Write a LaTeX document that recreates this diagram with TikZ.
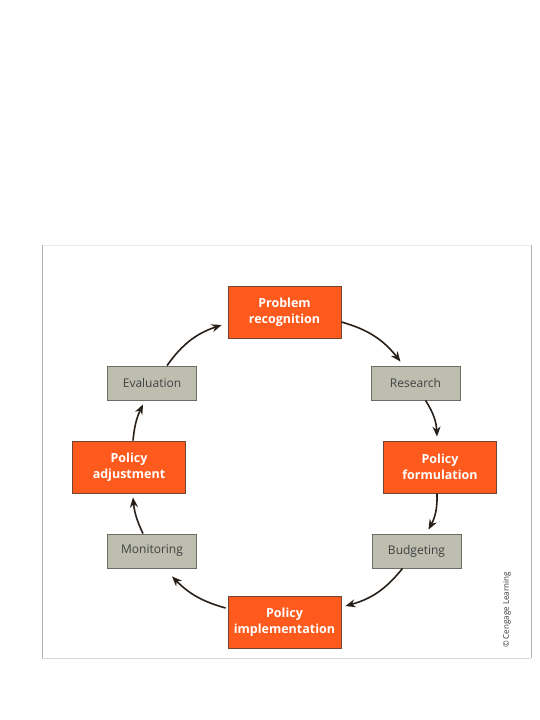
\documentclass[tikz,border=0pt]{standalone}
\usepackage{fontspec}
\setmainfont{Open Sans}
\usepackage{tikz}
\usetikzlibrary{arrows.meta, positioning}
\definecolor{stageorange}{RGB}{255,90,30}
\definecolor{stageedge}{RGB}{110,70,50}
\definecolor{taskgray}{RGB}{190,190,176}
\definecolor{taskedge}{RGB}{110,110,100}
\definecolor{arrowdark}{RGB}{40,32,24}

\begin{document}
\begin{tikzpicture}[
  x=1pt, y=-1pt,
  >={Stealth[length=10pt,width=8pt]},
  stage/.style={
    rectangle, draw=stageedge, line width=0.8pt, fill=stageorange,
    minimum height=52pt, minimum width=113pt, align=center,
    text=white, font=\fontsize{12.5}{16}\selectfont\bfseries
  },
  task/.style={
    rectangle, draw=taskedge, line width=0.8pt, fill=taskgray,
    minimum height=34pt, minimum width=89pt, align=center,
    text=black!75, font=\fontsize{12}{14}\selectfont
  },
  flow/.style={->, line width=1.6pt, color=arrowdark}
]
\useasboundingbox (0,0) rectangle (540,720);

% Frame
\fill[white] (42,245) rectangle (531,658);
\draw[black!8, line width=0.8pt] (42,245) -- (531,245);
\draw[black!15, line width=0.8pt] (42,658) -- (531,658);
\draw[black!30, line width=0.8pt] (42,245) -- (42,658);
\draw[black!30, line width=0.8pt] (531,245) -- (531,658);

% Cycle nodes
\node[stage] (prob) at (284.5,312) {Problem\\recognition};
\node[task] (res) at (415.5,383) {Research};
\node[stage] (form) at (440,467) {Policy\\formulation};
\node[task] (budg) at (416.5,551) {Budgeting};
\node[stage] (impl) at (284.5,622) {Policy\\implementation};
\node[task] (mon) at (152,551) {Monitoring};
\node[stage] (adj) at (129,467) {Policy\\adjustment};
\node[task] (eval) at (152,383) {Evaluation};

% Flow arrows
\draw[flow] ([yshift=-10pt]prob.east) to[bend left=18] ([xshift=-15pt,yshift=4pt]res.north);
\draw[flow] ([xshift=10pt]res.south) to[bend left=15] ([xshift=-3pt,yshift=4pt]form.north);
\draw[flow] ([xshift=-3pt]form.south) to[bend left=15] ([xshift=12pt,yshift=4pt]budg.north);
\draw[flow] ([xshift=-14pt]budg.south) to[bend left=18] ([xshift=4pt,yshift=16pt]impl.east);
\draw[flow] ([xshift=-2pt,yshift=14pt]impl.west) to[bend left=15] ([xshift=20pt,yshift=-8pt]mon.south);
\draw[flow] ([xshift=-9pt]mon.north) to[bend left=10] ([xshift=4pt,yshift=-4pt]adj.south);
\draw[flow] ([xshift=4pt]adj.north) to[bend left=10] ([xshift=-9pt,yshift=-4pt]eval.south);
\draw[flow] ([xshift=15pt]eval.north) to[bend left=18] ([xshift=-6pt,yshift=-13pt]prob.west);

% Credit
\node[rotate=90, text=black!80, font=\fontsize{8}{10}\selectfont] (credit) at (507,610) {\textcopyright{} Cengage Learning};

\end{tikzpicture}
\end{document}
